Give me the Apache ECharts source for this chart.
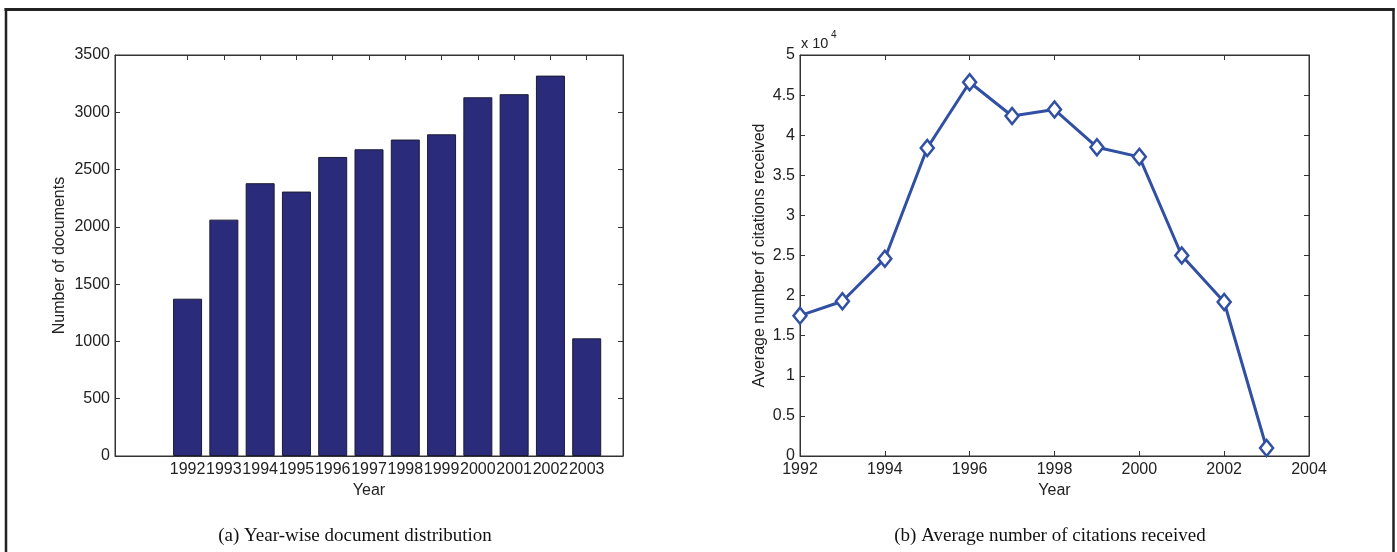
<!DOCTYPE html>
<html>
<head>
<meta charset="utf-8">
<script src="https://cdn.jsdelivr.net/npm/echarts@6/dist/echarts.min.js"></script>
<style>
  html, body { margin: 0; padding: 0; background: #fff; }
  #chart { width: 1397px; height: 552px; }
</style>
</head>
<body>
<div id="chart"></div>
<script>
// Years covered by both panels
const years = [1992, 1993, 1994, 1995, 1996, 1997, 1998, 1999, 2000, 2001, 2002, 2003];
// (a) number of documents per year
const documentCounts = [1373, 2063, 2381, 2308, 2610, 2677, 2762, 2808, 3131, 3158, 3320, 1027];
// (b) average number of citations received per year
const avgCitations = [17500, 19300, 24600, 38400, 46600, 42400, 43200, 38500, 37300, 25000, 19200, 1000];
// Tick values
const docTicks = [0, 500, 1000, 1500, 2000, 2500, 3000, 3500];
const citeYearTicks = [1992, 1994, 1996, 1998, 2000, 2002, 2004];

const FONT = '"Liberation Sans", Arial, Helvetica, sans-serif';
const SERIF = '"Liberation Serif", "Times New Roman", serif';
const TXT = '#222';
const AXIS = '#333';
const FS = 16;

const chart = echarts.init(document.getElementById('chart'), null, { renderer: 'canvas' });

function tickOpts(values) {
  const t = { show: true, inside: true, length: 5, lineStyle: { color: AXIS, width: 1 } };
  if (values) t.customValues = values;
  return t;
}
const lineOpts = { show: true, onZero: false, lineStyle: { color: AXIS, width: 1 } };
const noLabel = { show: false };
const labelOpts = (extra) => Object.assign({ color: TXT, fontFamily: FONT, fontSize: FS, margin: 6 }, extra);
const nameStyle = { color: TXT, fontFamily: FONT, fontSize: FS };

const option = {
  backgroundColor: '#fff',
  animation: false,
  grid: [
    { left: 115, right: 1397 - 623, top: 55, bottom: 552 - 456, show: true, borderColor: AXIS, borderWidth: 1, backgroundColor: 'transparent' },
    { left: 800, right: 1397 - 1309, top: 55, bottom: 552 - 456, show: true, borderColor: AXIS, borderWidth: 1, backgroundColor: 'transparent' }
  ],
  xAxis: [
    {
      type: 'value', gridIndex: 0, position: 'bottom', min: 1990, max: 2004, interval: 1,
      axisLine: lineOpts, axisTick: tickOpts(years), splitLine: { show: false },
      axisLabel: labelOpts({ customValues: years, formatter: v => String(v) }),
      name: 'Year', nameLocation: 'middle', nameGap: 25, nameTextStyle: nameStyle
    },
    {
      type: 'value', gridIndex: 0, position: 'top', min: 1990, max: 2004, interval: 1,
      axisLine: lineOpts, axisTick: tickOpts(years), splitLine: { show: false }, axisLabel: noLabel
    },
    {
      type: 'value', gridIndex: 1, position: 'bottom', min: 1992, max: 2004, interval: 2,
      axisLine: lineOpts, axisTick: tickOpts(citeYearTicks), splitLine: { show: false },
      axisLabel: labelOpts({ formatter: v => String(v) }),
      name: 'Year', nameLocation: 'middle', nameGap: 25, nameTextStyle: nameStyle
    },
    {
      type: 'value', gridIndex: 1, position: 'top', min: 1992, max: 2004, interval: 2,
      axisLine: lineOpts, axisTick: tickOpts(citeYearTicks), splitLine: { show: false }, axisLabel: noLabel
    }
  ],
  yAxis: [
    {
      type: 'value', gridIndex: 0, position: 'left', min: 0, max: 3500, interval: 500,
      axisLine: lineOpts, axisTick: tickOpts(docTicks), splitLine: { show: false },
      axisLabel: labelOpts({ margin: 5, formatter: v => String(v) }),
      name: 'Number of documents', nameLocation: 'middle', nameGap: 47, nameTextStyle: nameStyle
    },
    {
      type: 'value', gridIndex: 0, position: 'right', min: 0, max: 3500, interval: 500,
      axisLine: lineOpts, axisTick: tickOpts(docTicks), splitLine: { show: false }, axisLabel: noLabel
    },
    {
      type: 'value', gridIndex: 1, position: 'left', min: 0, max: 50000, interval: 5000,
      axisLine: lineOpts, axisTick: tickOpts(), splitLine: { show: false },
      axisLabel: labelOpts({ margin: 5, formatter: v => String(v / 10000) }),
      name: 'Average number of citations received', nameLocation: 'middle', nameGap: 32, nameTextStyle: nameStyle
    },
    {
      type: 'value', gridIndex: 1, position: 'right', min: 0, max: 50000, interval: 5000,
      axisLine: lineOpts, axisTick: tickOpts(), splitLine: { show: false }, axisLabel: noLabel
    }
  ],
  series: [
    {
      name: 'Documents', type: 'bar', xAxisIndex: 0, yAxisIndex: 0,
      data: years.map((y, i) => [y, documentCounts[i]]),
      barWidth: 29,
      itemStyle: { color: '#2b2b7c', borderColor: '#1b1b33', borderWidth: 1 }
    },
    {
      name: 'Citations', type: 'line', xAxisIndex: 2, yAxisIndex: 2,
      data: years.map((y, i) => [y, avgCitations[i]]),
      lineStyle: { color: '#3150a3', width: 3 },
      symbol: 'diamond', symbolSize: [13, 16], showAllSymbol: true,
      itemStyle: { color: '#fff', borderColor: '#3150a3', borderWidth: 2.5 },
      z: 3
    }
  ],
  graphic: [
    // exponent marker above the citation axis
    { type: 'text', left: 801, top: 36, style: { text: 'x 10', fill: TXT, font: '14.5px ' + FONT } },
    { type: 'text', left: 831, top: 30, style: { text: '4', fill: TXT, font: '10px ' + FONT } },
    // sub-figure captions
    { type: 'text', x: 355, y: 536, style: { text: '(a) Year-wise document distribution', fill: '#111', font: '19px ' + SERIF, align: 'center', verticalAlign: 'middle' } },
    { type: 'text', x: 1050, y: 536, style: { text: '(b) Average number of citations received', fill: '#111', font: '19px ' + SERIF, align: 'center', verticalAlign: 'middle' } },
    // figure frame (open at the bottom)
    { type: 'line', shape: { x1: 4.5, y1: 9.5, x2: 1394.5, y2: 9.5 }, style: { stroke: '#222', lineWidth: 3 } },
    { type: 'line', shape: { x1: 6, y1: 8, x2: 6, y2: 552 }, style: { stroke: '#222', lineWidth: 2.5 } },
    { type: 'line', shape: { x1: 1393.5, y1: 8, x2: 1393.5, y2: 552 }, style: { stroke: '#222', lineWidth: 2.5 } }
  ]
};

chart.setOption(option);
</script>
</body>
</html>
